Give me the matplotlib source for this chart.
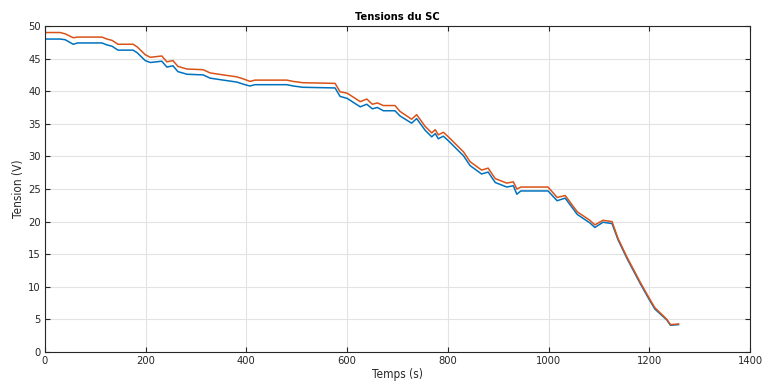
import matplotlib
matplotlib.use("Agg")
import matplotlib.pyplot as plt
from matplotlib import font_manager

# Data
t = [0, 30, 40, 56, 65, 113, 123, 133, 145, 175, 183, 199, 209, 232, 242, 254, 264,
     282, 314, 328, 354, 381, 397, 407, 417, 480, 493, 512, 576, 586, 600, 626, 639,
     650, 660, 672, 695, 705, 728, 738, 755, 768, 775, 781, 791, 801, 831, 844, 867,
     880, 894, 917, 930, 937, 945, 999, 1017, 1033, 1057, 1082, 1092, 1108, 1126,
     1138, 1156, 1182, 1198, 1211, 1235, 1242, 1258]
v_orange = [49.0, 49.0, 48.8, 48.2, 48.3, 48.3, 48.0, 47.8, 47.2, 47.2, 46.8, 45.6,
            45.2, 45.4, 44.5, 44.7, 43.8, 43.4, 43.3, 42.8, 42.5, 42.2, 41.8, 41.5,
            41.7, 41.7, 41.5, 41.3, 41.2, 39.9, 39.7, 38.4, 38.8, 38.0, 38.2, 37.8,
            37.8, 36.9, 35.7, 36.4, 34.6, 33.6, 34.1, 33.3, 33.7, 33.0, 30.7, 29.2,
            27.9, 28.2, 26.6, 25.9, 26.1, 25.0, 25.3, 25.3, 23.7, 24.0, 21.5, 20.2,
            19.5, 20.2, 20.0, 17.4, 14.5, 10.7, 8.5, 6.8, 5.0, 4.2, 4.3]
v_blue = [48.0, 48.0, 47.9, 47.2, 47.4, 47.4, 47.1, 46.9, 46.3, 46.3, 45.9, 44.7,
          44.4, 44.6, 43.7, 43.9, 43.0, 42.6, 42.5, 42.0, 41.7, 41.4, 41.0, 40.8,
          41.0, 41.0, 40.8, 40.6, 40.5, 39.2, 38.9, 37.6, 38.0, 37.3, 37.5, 37.0,
          37.0, 36.2, 35.1, 35.8, 34.0, 33.0, 33.5, 32.7, 33.1, 32.4, 30.1, 28.6,
          27.3, 27.6, 26.0, 25.3, 25.5, 24.2, 24.7, 24.7, 23.2, 23.6, 21.1, 19.8,
          19.1, 19.9, 19.7, 17.2, 14.3, 10.5, 8.3, 6.6, 4.9, 4.1, 4.2]
x_ticks = [0, 200, 400, 600, 800, 1000, 1200, 1400]
y_ticks = [0, 5, 10, 15, 20, 25, 30, 35, 40, 45, 50]

plt.rcParams['font.family'] = ['DejaVu Sans']
plt.rcParams['font.stretch'] = 'condensed'

fig = plt.figure(figsize=(7.67, 3.9), dpi=100)
ax = fig.add_axes([45/767, 1-352/390, 705/767, 326/390])

ax.plot(t, v_blue, color='#0072BD', lw=1.1)
ax.plot(t, v_orange, color='#D95319', lw=1.1)

ax.set_xlim(0, 1400)
ax.set_ylim(0, 50)
ax.set_xticks(x_ticks)
ax.set_yticks(y_ticks)
ax.grid(True, color='#e3e3e3', lw=0.8)
ax.set_axisbelow(True)
for s in ax.spines.values():
    s.set_color('#262626')
    s.set_linewidth(0.8)
ax.tick_params(direction='in', length=3.5, width=0.8, color='#262626',
               top=True, right=True, labelsize=8, labelcolor='#262626', pad=3)
ax.set_title('Tensions du SC', fontsize=8, fontweight='bold', pad=4, color='black')
ax.set_xlabel('Temps (s)', fontsize=8.5, labelpad=1, color='#262626')
ax.set_ylabel('Tension (V)', fontsize=8.5, labelpad=2, color='#262626')

fig.savefig('out.png', dpi=100)
